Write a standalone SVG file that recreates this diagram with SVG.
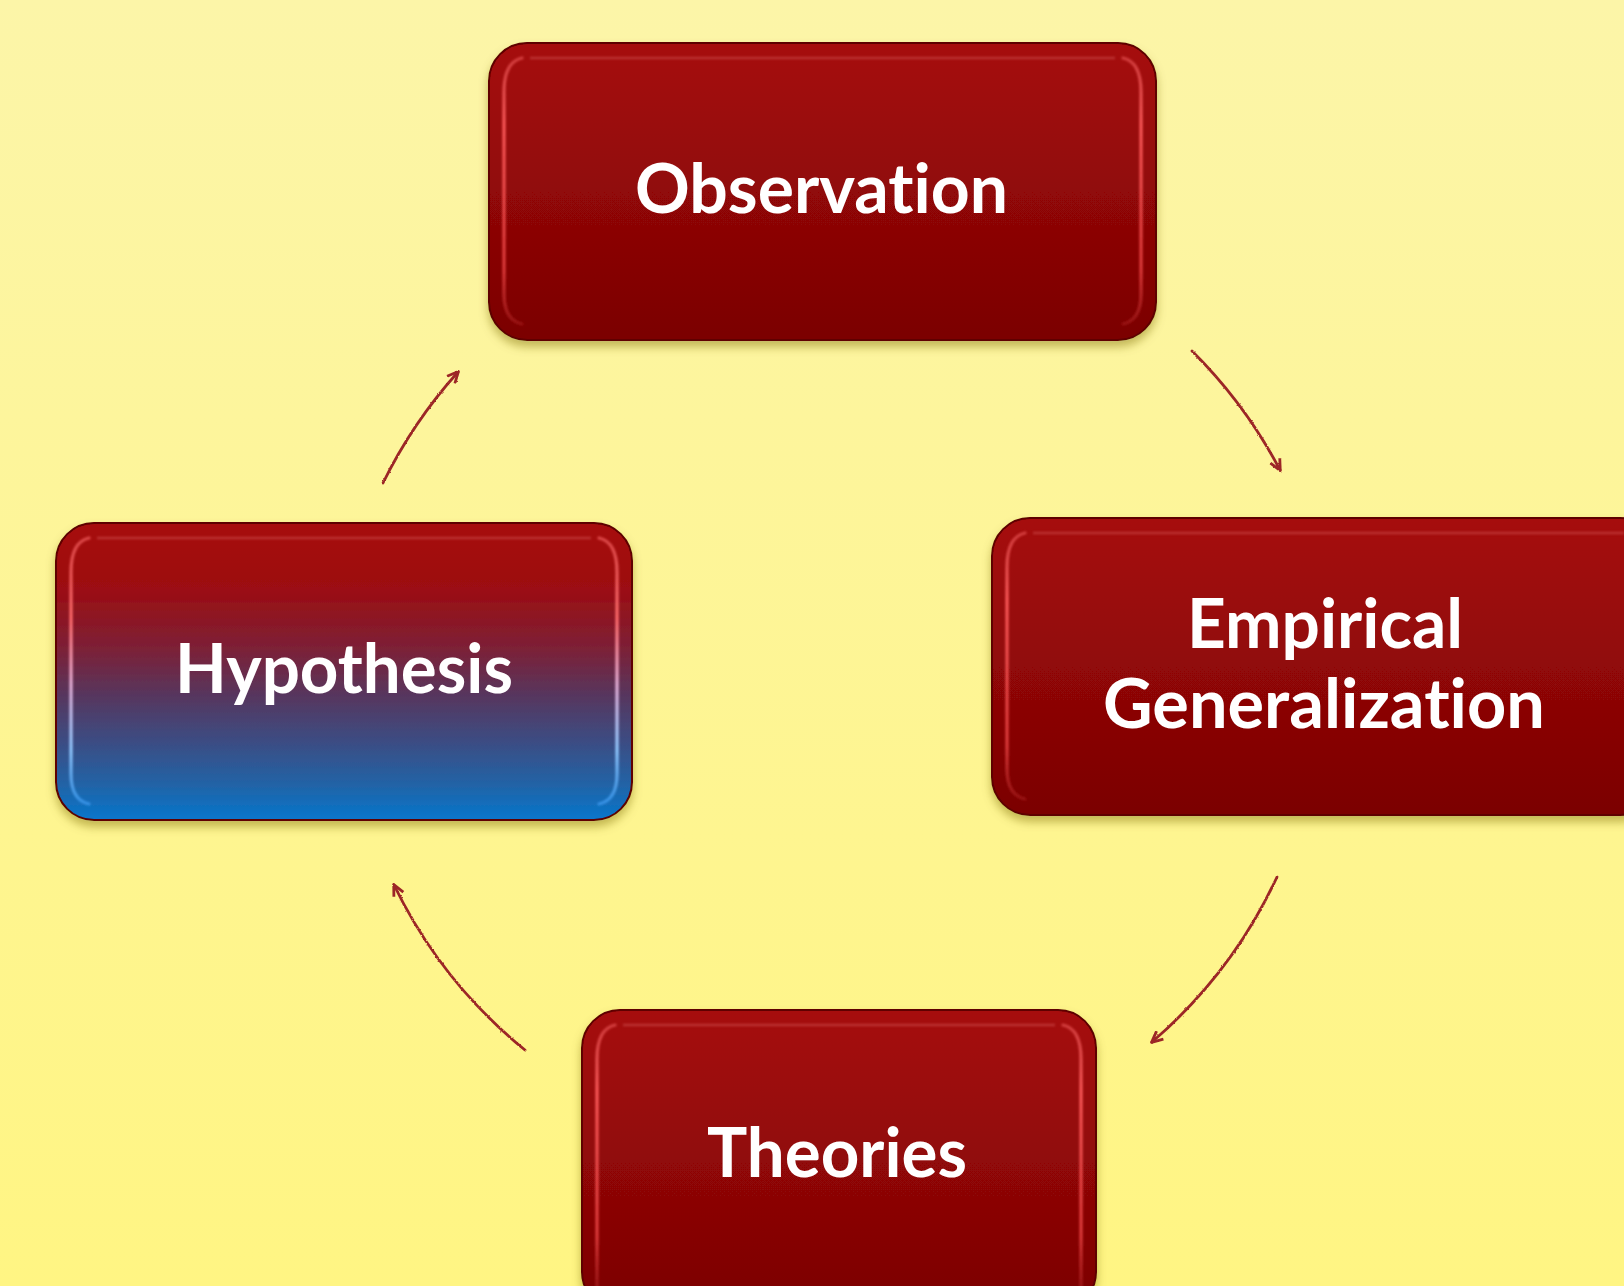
<svg xmlns="http://www.w3.org/2000/svg" width="1624" height="1286" viewBox="0 0 1624 1286">
  <defs>
    <style>
      .label { font-family: Lato, "Open Sans", "Liberation Sans", sans-serif; font-weight: 700; font-size: 68px; fill: #ffffff; text-anchor: middle; font-variant-ligatures: none; font-feature-settings: "liga" 0, "clig" 0; }
      .box { stroke: #5e0000; stroke-width: 2; }
      .glow { fill: none; stroke-width: 3.2; stroke-linecap: round; }
      .topglow { fill: none; stroke: #ff9a9a; stroke-width: 2.5; opacity: 0.25; }
      .link { fill: none; stroke: #9c2626; stroke-width: 2.8; stroke-linecap: round; marker-end: url(#head); }
    </style>
    <linearGradient id="bg" x1="0" y1="0" x2="0" y2="1">
      <stop offset="0" stop-color="#fcf5a8"/>
      <stop offset="1" stop-color="#fff583"/>
    </linearGradient>
    <linearGradient id="redFill" x1="0" y1="0" x2="0" y2="1">
      <stop offset="0" stop-color="#a60b0b"/>
      <stop offset="1" stop-color="#7b0303"/>
    </linearGradient>
    <linearGradient id="mixFill" x1="0" y1="0" x2="0" y2="1">
      <stop offset="0" stop-color="#a70b0b"/>
      <stop offset="0.22" stop-color="#9c0d12"/>
      <stop offset="0.42" stop-color="#7d2036"/>
      <stop offset="0.58" stop-color="#57365e"/>
      <stop offset="0.74" stop-color="#3b4d84"/>
      <stop offset="0.88" stop-color="#2263a6"/>
      <stop offset="1" stop-color="#0676cc"/>
    </linearGradient>
    <linearGradient id="redGlow" x1="0" y1="0" x2="0" y2="1">
      <stop offset="0" stop-color="#ff6c6c" stop-opacity="0.5"/>
      <stop offset="0.25" stop-color="#ff5c5c" stop-opacity="0.95"/>
      <stop offset="0.8" stop-color="#f04848" stop-opacity="0.8"/>
      <stop offset="1" stop-color="#c03030" stop-opacity="0.4"/>
    </linearGradient>
    <linearGradient id="mixGlow" x1="0" y1="0" x2="0" y2="1">
      <stop offset="0" stop-color="#ff6c6c" stop-opacity="0.6"/>
      <stop offset="0.3" stop-color="#ff6a6a"/>
      <stop offset="0.55" stop-color="#e6b0d8"/>
      <stop offset="0.8" stop-color="#8fc8ff"/>
      <stop offset="1" stop-color="#4aa8ff" stop-opacity="0.6"/>
    </linearGradient>
    <filter id="shadow" x="-10%" y="-10%" width="120%" height="130%">
      <feGaussianBlur in="SourceAlpha" stdDeviation="5"/>
      <feOffset dy="6" result="off"/>
      <feFlood flood-color="#7a6a10" flood-opacity="0.45"/>
      <feComposite in2="off" operator="in"/>
      <feMerge>
        <feMergeNode/>
        <feMergeNode in="SourceGraphic"/>
      </feMerge>
    </filter>
    <filter id="soft" x="-20%" y="-20%" width="140%" height="140%">
      <feGaussianBlur stdDeviation="1.1"/>
    </filter>
    <filter id="rough" x="-10%" y="-10%" width="120%" height="120%">
      <feTurbulence type="fractalNoise" baseFrequency="0.6" numOctaves="2" seed="4"/>
      <feDisplacementMap in="SourceGraphic" scale="2.2" xChannelSelector="R" yChannelSelector="G"/>
    </filter>
    <marker id="head" viewBox="0 0 12 12" refX="10" refY="6" markerWidth="5" markerHeight="5" orient="auto" markerUnits="strokeWidth">
      <path d="M1,1.5 L10.5,6 L1,10.5" fill="none" stroke="#9c2626" stroke-width="2.4" stroke-linejoin="round"/>
    </marker>
  </defs>

  <rect width="1624" height="1286" fill="url(#bg)"/>

  <!-- curved connectors around the cycle -->
  <g id="connectors" filter="url(#rough)">
    <path class="link" d="M1192,351 A487,487 0 0 1 1280,470"/>
    <path class="link" d="M1277,877 A487,487 0 0 1 1152,1042"/>
    <path class="link" d="M525,1050 A487,487 0 0 1 394,885"/>
    <path class="link" d="M383,483 A487,487 0 0 1 458,372"/>
  </g>

  <g id="observation">
    <rect class="box" x="489" y="43" width="667" height="297" rx="38" fill="url(#redFill)" filter="url(#shadow)"/>
    <g filter="url(#soft)">
      <path class="topglow" d="M530,58 L1115,58"/>
      <path class="glow" stroke="url(#redGlow)" d="M522,58 Q504,62 504,92 L504,294 Q504,320 522,324"/>
      <path class="glow" stroke="url(#redGlow)" d="M1123,58 Q1141,62 1141,92 L1141,294 Q1141,320 1123,324"/>
    </g>
    <text class="label" x="821.5" y="213" textLength="373" lengthAdjust="spacingAndGlyphs">Observation</text>
  </g>

  <g id="hypothesis">
    <rect class="box" x="56" y="523" width="576" height="297" rx="38" fill="url(#mixFill)" filter="url(#shadow)"/>
    <g filter="url(#soft)">
      <path class="topglow" d="M97,538 L591,538"/>
      <path class="glow" stroke="url(#mixGlow)" d="M89,538 Q71,542 71,572 L71,774 Q71,800 89,804"/>
      <path class="glow" stroke="url(#mixGlow)" d="M599,538 Q617,542 617,572 L617,774 Q617,800 599,804"/>
    </g>
    <text class="label" x="344" y="693" textLength="338" lengthAdjust="spacingAndGlyphs">Hypothesis</text>
  </g>

  <g id="empirical-generalization">
    <rect class="box" x="992" y="518" width="666" height="297" rx="38" fill="url(#redFill)" filter="url(#shadow)"/>
    <g filter="url(#soft)">
      <path class="topglow" d="M1033,533 L1624,533"/>
      <path class="glow" stroke="url(#redGlow)" d="M1025,533 Q1007,537 1007,567 L1007,769 Q1007,795 1025,799"/>
    </g>
    <text class="label" x="1325" y="648" textLength="276" lengthAdjust="spacingAndGlyphs">Empirical</text>
    <text class="label" x="1324" y="728" textLength="442" lengthAdjust="spacingAndGlyphs">Generalization</text>
  </g>

  <g id="theories">
    <rect class="box" x="582" y="1010" width="514" height="300" rx="38" fill="url(#redFill)" filter="url(#shadow)"/>
    <g filter="url(#soft)">
      <path class="topglow" d="M623,1025 L1055,1025"/>
      <path class="glow" stroke="url(#redGlow)" d="M615,1025 Q597,1029 597,1059 L597,1290"/>
      <path class="glow" stroke="url(#redGlow)" d="M1063,1025 Q1081,1029 1081,1059 L1081,1290"/>
    </g>
    <text class="label" x="837" y="1177" textLength="260" lengthAdjust="spacingAndGlyphs">Theories</text>
  </g>
</svg>
